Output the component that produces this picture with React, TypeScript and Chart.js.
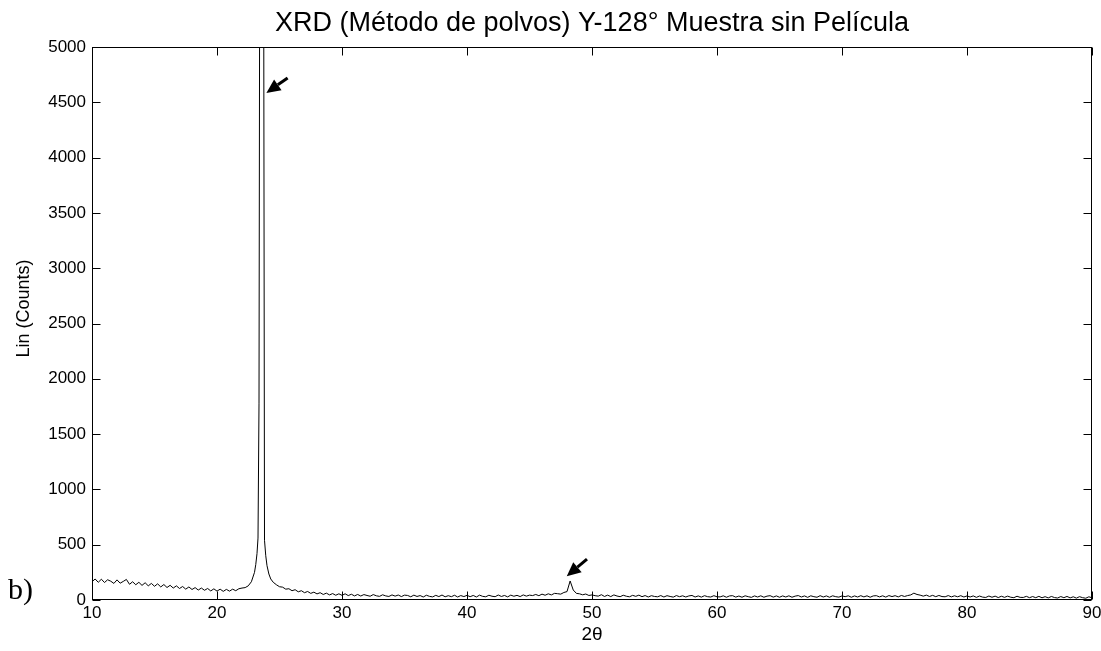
import { useEffect, useRef } from "react";
import { Chart, registerables } from "chart.js";

Chart.register(...registerables);

// Diffractometer scan, counts per 0.25° step in 2θ
const scanStep = 0.25;

// 10.00° – 22.00°
const lowScanStart = 10;
const lowScanCounts = [
  165, 190, 160, 188, 158, 183, 170, 150, 182, 152, 168, 186, 142, 165, 138,
  160, 132, 156, 128, 150, 124, 146, 118, 140, 113, 133, 108, 128, 104, 122,
  98, 118, 95, 112, 90, 108, 88, 104, 82, 101, 80, 98, 78, 96, 80, 98, 84,
  102, 108,
];

// Main reflection, sampled finer (top runs off the 5000 limit)
const peakTwoTheta = [
  22.25, 22.5, 22.75, 23.0, 23.1, 23.2, 23.28, 23.36, 23.44, 23.56, 23.72,
  23.8, 23.9, 24.0, 24.15, 24.3, 24.5, 24.75, 25.0,
];
const peakCounts = [
  112, 128, 165, 250, 320, 420, 560, 1780, 7600, 9400, 6800, 540, 400, 310,
  235, 190, 160, 138, 120,
];

// 25.25° – 90.00°
const highScanStart = 25.25;
const highScanCounts = [
  116, 98, 102, 84, 93, 74, 84, 66, 77, 60, 71, 55, 66, 50, 62, 46, 58, 43, 56, 42,
  56, 40, 52, 37, 50, 36, 49, 41, 34, 49, 38, 33, 47, 37, 32, 46, 35, 45, 31, 44,
  41, 29, 44, 32, 40, 27, 43, 33, 28, 42, 31, 45, 29, 39, 30, 43, 27, 40, 31, 42,
  30, 41, 27, 44, 33, 29, 43, 34, 30, 45, 32, 41, 28, 44, 34, 42, 31, 46, 35, 44,
  40, 50, 39, 53, 43, 56, 46, 60, 57, 53, 68, 76, 172, 90, 60, 56, 47, 54, 41, 46,
  39, 35, 48, 32, 44, 31, 46, 36, 30, 43, 34, 29, 42, 33, 44, 30, 40, 27, 39, 32,
  29, 40, 27, 39, 32, 26, 40, 30, 38, 27, 37, 41, 27, 37, 26, 39, 30, 27, 39, 29,
  28, 38, 25, 37, 39, 26, 36, 25, 38, 30, 24, 37, 27, 38, 25, 35, 39, 26, 37, 25,
  37, 27, 38, 25, 35, 40, 27, 37, 24, 38, 30, 25, 39, 27, 37, 25, 38, 30, 26, 37,
  30, 38, 25, 37, 27, 39, 28, 38, 25, 37, 39, 28, 38, 26, 40, 31, 39, 28, 41, 32,
  40, 46, 62, 50, 44, 35, 44, 32, 42, 30, 41, 31, 29, 40, 28, 38, 29, 39, 27, 37,
  27, 37, 24, 36, 26, 23, 36, 25, 35, 22, 34, 24, 35, 25, 21, 34, 24, 23, 33, 21,
  31, 21, 33, 20, 30, 19, 32, 22, 18, 31, 21, 32, 19, 29, 17, 30, 21, 16, 29, 20,
];

// Arrows marking the two reflections: tail and tip in (2θ, counts)
const arrowTails = [
  { x: 25.65, y: 4720 },
  { x: 49.6, y: 370 },
];
const arrowTips = [
  { x: 23.95, y: 4585 },
  { x: 47.98, y: 215 },
];

const xTickValues = [10, 20, 30, 40, 50, 60, 70, 80, 90];
const yTickValues = [0, 500, 1000, 1500, 2000, 2500, 3000, 3500, 4000, 4500, 5000];

const chartTitle = "XRD (Método de polvos) Y-128° Muestra sin Película";
const xAxisTitle = "2θ";
const yAxisTitle = "Lin (Counts)";
const panelLabel = "b)";

const SANS = "'Liberation Sans', Arial, Helvetica, sans-serif";
const SERIF = "'Liberation Serif', 'Times New Roman', serif";

function buildPoints() {
  const pts: { x: number; y: number }[] = [];
  lowScanCounts.forEach((c, i) => pts.push({ x: lowScanStart + i * scanStep, y: c }));
  peakTwoTheta.forEach((t, i) => pts.push({ x: t, y: peakCounts[i] }));
  highScanCounts.forEach((c, i) => pts.push({ x: highScanStart + i * scanStep, y: c }));
  return pts;
}

function drawArrow(ctx: CanvasRenderingContext2D, x0: number, y0: number, x1: number, y1: number) {
  const ang = Math.atan2(y1 - y0, x1 - x0);
  const headLen = 14;
  const headHalf = 6.5;
  const bx = x1 - headLen * Math.cos(ang);
  const by = y1 - headLen * Math.sin(ang);
  ctx.beginPath();
  ctx.lineWidth = 3;
  ctx.moveTo(x0, y0);
  ctx.lineTo(bx, by);
  ctx.stroke();
  ctx.beginPath();
  ctx.moveTo(x1, y1);
  ctx.lineTo(bx + headHalf * Math.sin(ang), by - headHalf * Math.cos(ang));
  ctx.lineTo(bx - headHalf * Math.sin(ang), by + headHalf * Math.cos(ang));
  ctx.closePath();
  ctx.fill();
}

// Box around the plot area with inward tick marks on all four sides,
// the arrows, the rotated y label and the panel letter.
const frameAndLabels = {
  id: "frameAndLabels",
  afterDraw(chart: any) {
    const { ctx, chartArea: a, scales } = chart;
    const L = 8;
    const left = Math.round(a.left) + 0.5;
    const right = Math.round(a.right) - 0.5;
    const top = Math.round(a.top) + 0.5;
    const bottom = Math.round(a.bottom) - 0.5;
    ctx.save();
    ctx.strokeStyle = "#000";
    ctx.fillStyle = "#000";
    ctx.lineWidth = 1;
    ctx.beginPath();
    for (const t of scales.x.ticks) {
      const px = Math.round(scales.x.getPixelForValue(t.value)) + 0.5;
      ctx.moveTo(px, bottom);
      ctx.lineTo(px, bottom - L);
      ctx.moveTo(px, top);
      ctx.lineTo(px, top + L);
    }
    for (const t of scales.y.ticks) {
      const py = Math.round(scales.y.getPixelForValue(t.value)) + 0.5;
      ctx.moveTo(left, py);
      ctx.lineTo(left + L, py);
      ctx.moveTo(right, py);
      ctx.lineTo(right - L, py);
    }
    ctx.stroke();
    ctx.strokeRect(left, top, right - left, bottom - top);

    arrowTips.forEach((tip, i) => {
      const tail = arrowTails[i];
      drawArrow(
        ctx,
        scales.x.getPixelForValue(tail.x),
        scales.y.getPixelForValue(tail.y),
        scales.x.getPixelForValue(tip.x),
        scales.y.getPixelForValue(tip.y)
      );
    });

    ctx.save();
    ctx.translate(24, (a.top + a.bottom) / 2 - 15);
    ctx.rotate(-Math.PI / 2);
    ctx.font = `18px ${SANS}`;
    ctx.textAlign = "center";
    ctx.textBaseline = "middle";
    ctx.fillText(yAxisTitle, 0, 0);
    ctx.restore();

    ctx.font = `30px ${SERIF}`;
    ctx.textAlign = "left";
    ctx.textBaseline = "alphabetic";
    ctx.fillText(panelLabel, 8, 599);
    ctx.restore();
  },
};

export default function App() {
  const canvasRef = useRef<HTMLCanvasElement | null>(null);

  useEffect(() => {
    const canvas = canvasRef.current;
    if (!canvas) return;
    const chart = new Chart(canvas, {
      type: "line",
      data: {
        datasets: [
          {
            data: buildPoints(),
            borderColor: "#000",
            borderWidth: 1,
            pointRadius: 0,
            tension: 0,
            fill: false,
          },
        ],
      },
      options: {
        responsive: false,
        animation: false,
        devicePixelRatio: 1,
        layout: { padding: 0 },
        plugins: {
          legend: { display: false },
          tooltip: { enabled: false },
          title: {
            display: true,
            text: chartTitle,
            fullSize: false,
            color: "#000",
            font: { family: SANS, size: 27, weight: "normal" },
            padding: { top: 7.5, bottom: 7.1 },
          },
        },
        scales: {
          x: {
            type: "linear",
            min: 10,
            max: 90,
            afterBuildTicks: (s: any) => {
              s.ticks = xTickValues.map((v) => ({ value: v }));
            },
            afterFit: (s: any) => {
              s.height = 51;
              s.paddingLeft = 0;
              s.paddingRight = 9;
            },
            grid: { display: false, drawTicks: false },
            border: { display: false },
            ticks: {
              color: "#000",
              font: { family: SANS, size: 17 },
              padding: 3,
              maxRotation: 0,
              autoSkip: false,
              callback: (v: any) => String(v),
            },
            title: {
              display: true,
              text: xAxisTitle,
              color: "#000",
              font: { family: SANS, size: 19 },
              padding: { top: 0, bottom: 5 },
            },
          },
          y: {
            type: "linear",
            min: 0,
            max: 5000,
            afterBuildTicks: (s: any) => {
              s.ticks = yTickValues.map((v) => ({ value: v }));
            },
            afterFit: (s: any) => {
              s.width = 92;
            },
            grid: { display: false, drawTicks: false },
            border: { display: false },
            ticks: {
              color: "#000",
              font: { family: SANS, size: 17 },
              padding: 6,
              autoSkip: false,
              callback: (v: any) => String(v),
            },
          },
        },
      },
      plugins: [frameAndLabels],
    });
    return () => chart.destroy();
  }, []);

  return (
    <div style={{ position: "absolute", left: 0, top: 0, width: 1101, height: 651, background: "#fff" }}>
      <canvas ref={canvasRef} width={1101} height={651} />
    </div>
  );
}
